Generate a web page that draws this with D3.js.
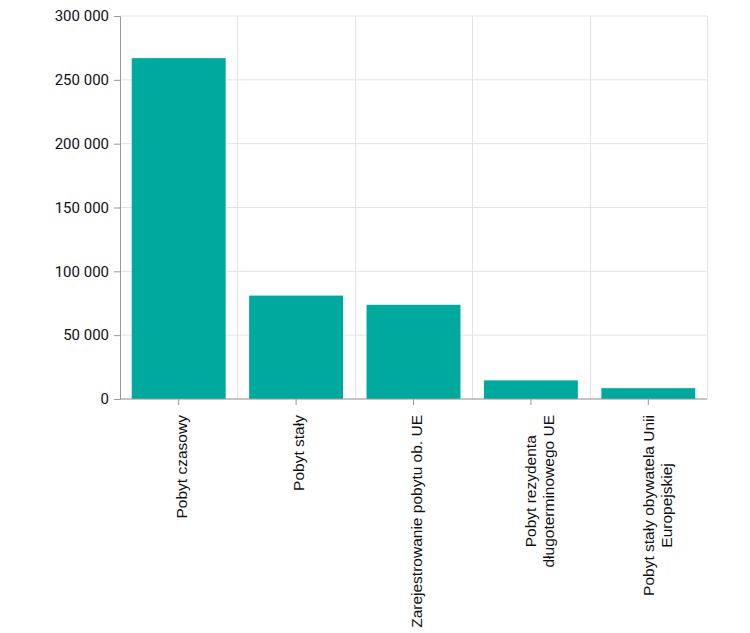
<!DOCTYPE html>
<html>
<head>
<meta charset="utf-8">
<script src="https://cdn.jsdelivr.net/npm/d3@7"></script>
<style>
  body { margin: 0; background: #fff; }
</style>
</head>
<body>
<div id="chart"></div>
<script>
const categories = [
  ['Pobyt czasowy'],
  ['Pobyt stały'],
  ['Zarejestrowanie pobytu ob. UE'],
  ['Pobyt rezydenta', 'długoterminowego UE'],
  ['Pobyt stały obywatela Unii', 'Europejskiej'],
];
const values = [267000, 81000, 73800, 14600, 8500];
const yTicks = [0, 50000, 100000, 150000, 200000, 250000, 300000];

const width = 750, height = 633;
const margin = { top: 16, right: 43, bottom: 234, left: 120 };
const innerW = width - margin.left - margin.right;
const innerH = height - margin.top - margin.bottom;

const svg = d3.select('#chart').append('svg')
  .attr('width', width).attr('height', height);
const g = svg.append('g').attr('transform', `translate(${margin.left},${margin.top})`);

const keys = categories.map((c, i) => i);
const x = d3.scaleBand().domain(keys).range([0, innerW])
  .paddingInner(0.2).paddingOuter(0.1);
const y = d3.scaleLinear().domain([0, 300000]).range([innerH, 0]);

const step = x.step();
const fmt = v => d3.format(',')(v).replace(/,/g, ' ');

// horizontal grid
g.selectAll('line.hgrid').data(yTicks).join('line')
  .attr('class', 'hgrid')
  .attr('x1', 0).attr('x2', innerW)
  .attr('y1', d => y(d)).attr('y2', d => y(d))
  .attr('stroke', '#e3e3e3').attr('stroke-width', 1);

// vertical grid between categories
g.selectAll('line.vgrid').data(d3.range(1, categories.length + 1)).join('line')
  .attr('class', 'vgrid')
  .attr('x1', d => Math.round(d * step) + 0.5).attr('x2', d => Math.round(d * step) + 0.5)
  .attr('y1', 0).attr('y2', innerH)
  .attr('stroke', '#e3e3e3').attr('stroke-width', 1);

// bars
g.selectAll('rect.bar').data(values).join('rect')
  .attr('class', 'bar')
  .attr('x', (d, i) => x(i))
  .attr('width', x.bandwidth())
  .attr('y', d => y(d))
  .attr('height', d => innerH - y(d))
  .attr('fill', '#00a99d');

// y axis
const yAxis = g.append('g')
  .call(d3.axisLeft(y).tickValues(yTicks).tickFormat(fmt).tickSize(6).tickPadding(5));
yAxis.attr('font-size', null).attr('font-family', null);
yAxis.select('.domain').attr('stroke', '#999');
yAxis.selectAll('.tick line').attr('stroke', '#999');
yAxis.selectAll('.tick text')
  .style('font-family', 'Roboto, sans-serif').style('font-size', '15px').attr('fill', '#111');

// x axis
const xAxis = g.append('g').attr('transform', `translate(0,${innerH})`)
  .call(d3.axisBottom(x).tickSize(6).tickFormat(''));
xAxis.attr('font-size', null).attr('font-family', null);
xAxis.select('.domain').attr('stroke', '#999').attr('d', `M0.5,0H${innerW}`);
xAxis.selectAll('.tick line').attr('stroke', '#999');

// rotated multi-line labels
const lineH = 18;
xAxis.selectAll('.tick').each(function(d) {
  const lines = categories[d];
  const t = d3.select(this).append('text')
    .attr('transform', 'rotate(-90)')
    .style('font-family', '"Liberation Sans", Arial, sans-serif')
    .style('font-size', '15.5px').attr('fill', '#111')
    .attr('text-anchor', 'middle');
  lines.forEach((l, i) => {
    t.append('tspan').attr('x', 0).attr('y', (lines.length === 1 ? 8 : 5.5) + i * lineH).text(l);
  });
  const len = t.node().getBBox().width;
  t.selectAll('tspan').attr('x', -(16 + len / 2));
});
</script>
</body>
</html>
